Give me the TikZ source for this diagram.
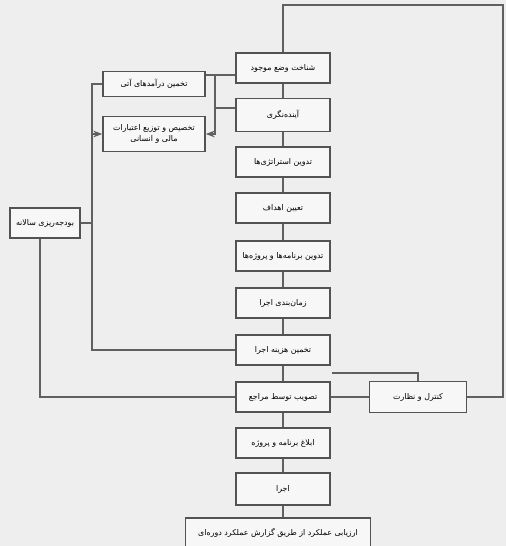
\documentclass[tikz,border=0pt]{standalone}
\usepackage{fontspec}
\newfontfamily\farsi[Script=Arabic]{DejaVu Sans}
\TeXXeTstate=1
\newcommand{\ptxt}[1]{\farsi\beginR #1\endR}
\usetikzlibrary{arrows.meta}

\begin{document}
\begin{tikzpicture}[x=0.02cm, y=-0.02cm, >={Stealth[scale=0.9]},
    link/.style={draw=gray!75!black, line width=0.6pt},
    box/.style={draw=gray!65!black, line width=0.9pt, fill=gray!6, rectangle, inner sep=1pt,
                minimum width=1.88cm, minimum height=0.6cm, align=center,
                font=\fontsize{4.5}{6}\selectfont}]
          \fill[gray!13] (0,0) rectangle (506,546);
          \useasboundingbox (0,0) rectangle (506,546);
          \node[box] (t1) at (283,68) {\ptxt{شناخت وضع موجود}};
          \node[box, minimum height=0.66cm] (t2) at (283,115) {\ptxt{آینده‌نگری}};
          \node[box] (t3) at (283,162) {\ptxt{تدوین استراتژی‌ها}};
          \node[box] (t4) at (283,208) {\ptxt{تعیین اهداف}};
          \node[box] (t5) at (283,256) {\ptxt{تدوین برنامه‌ها و پروژه‌ها}};
          \node[box] (t6) at (283,303) {\ptxt{زمان‌بندی اجرا}};
          \node[box] (t7) at (283,350) {\ptxt{تخمین هزینه اجرا}};
          \node[box] (t8) at (283,397) {\ptxt{تصویب توسط مراجع}};
          \node[box] (t9) at (283,443) {\ptxt{ابلاغ برنامه و پروژه}};
          \node[box, minimum height=0.64cm] (t10) at (283,489) {\ptxt{اجرا}};
          \node[box, minimum width=3.7cm] (ev) at (278,533) {\ptxt{ارزیابی عملکرد از طریق گزارش عملکرد دوره‌ای}};
          \node[box, minimum width=2.04cm, minimum height=0.5cm] (l1) at (154,84) {\ptxt{تخمین درآمدهای آتی}};
          \node[box, minimum width=2.04cm, minimum height=0.7cm] (l2) at (154,134) {\ptxt{تخصیص و توزیع اعتبارات}\\\ptxt{مالی و انسانی}};
          \node[box, minimum width=1.4cm] (bg) at (45,223) {\ptxt{بودجه‌ریزی سالانه}};
          \node[box, minimum width=1.94cm, minimum height=0.62cm] (kn) at (418,397) {\ptxt{کنترل و نظارت}};
          \draw[link] (t1) -- (t2) -- (t3) -- (t4) -- (t5) -- (t6) -- (t7) -- (t8) -- (t9) -- (t10);
          \draw[link] (t10.south) -- (t10.south |- ev.north);
          \draw[link] (kn.east) -| (503,5) -| (t1.north);
          \draw[link] (t8.east) -- (kn.west);
          \coordinate (kin) at (332,373);
          \draw[link] (kin) -| (kn.north);
          \draw[link] (l1.east |- 0,75) -- (t1.west |- 0,75);
          \coordinate (j1) at (215,75);
          \draw[link] (j1) |- (t2.west |- 0,108);
          \draw[link, ->] (j1) |- (l2.east);
          \draw[link] (l1.west) -- (92,84) |- (t7.west);
          \draw[link, ->] (92,134) -- (l2.west);
          \draw[link] (bg.east) -- (92,223);
          \draw[link] ([xshift=-0.1cm]bg.south) |- (t8.west);
        \end{tikzpicture}
\end{document}
